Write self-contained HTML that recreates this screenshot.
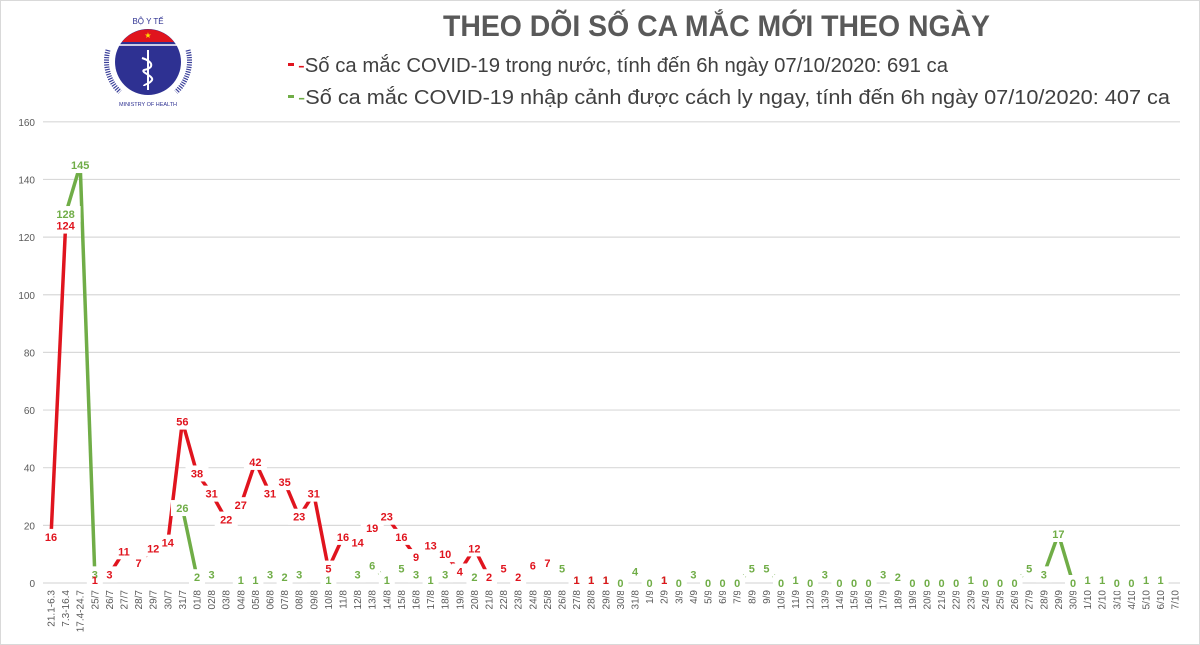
<!DOCTYPE html>
<html><head><meta charset="utf-8"><style>
html,body{margin:0;padding:0;background:#fff}
svg{display:block}
</style></head><body>
<svg width="1200" height="645" viewBox="0 0 1200 645" xmlns="http://www.w3.org/2000/svg" font-family="Liberation Sans, sans-serif">
<rect x="0.5" y="0.5" width="1199" height="644" fill="#fff" stroke="#d9d9d9"/>
<g transform="translate(148,62)">
<path d="M-40,-12 A42,42 0 0 0 -28,30" fill="none" stroke="#3a3f99" stroke-width="5" stroke-dasharray="1.2 1.2"/>
<path d="M40,-12 A42,42 0 0 1 28,30" fill="none" stroke="#3a3f99" stroke-width="5" stroke-dasharray="1.2 1.2"/>
<circle r="33" fill="#2e3192"/>
<path d="M-26,-20 A33,33 0 0 1 26,-20 Z" fill="#e0141e"/>
<path d="M-29,-17 L29,-17" stroke="#fff" stroke-width="1.5"/>
<text x="0" y="-24" font-size="8" fill="#ffdd00" text-anchor="middle">★</text>
<line x1="0" y1="-12" x2="0" y2="28" stroke="#fff" stroke-width="2"/>
<path d="M-6,-4 C6,0 6,6 -4,8 C-8,10 6,14 4,18 C2,22 -4,22 -4,24" fill="none" stroke="#fff" stroke-width="2"/>
<text x="0" y="-38" font-size="8" fill="#2e3192" text-anchor="middle">BỘ Y TẾ</text>
<text x="0" y="44" font-size="5.5" fill="#2e3192" text-anchor="middle">MINISTRY OF HEALTH</text>
</g>
<text x="443" y="36" font-size="30" font-weight="bold" fill="#595959" textLength="547" lengthAdjust="spacingAndGlyphs">THEO DÕI SỐ CA MẮC MỚI THEO NGÀY</text>
<rect x="288" y="63" width="6" height="3" fill="#e0141e"/>
<text x="298" y="72" font-size="20" fill="#404040" textLength="650" lengthAdjust="spacingAndGlyphs"><tspan fill="#e0141e">-</tspan>Số ca mắc COVID-19 trong nước, tính đến 6h ngày 07/10/2020: 691 ca</text>
<rect x="288" y="95" width="6" height="3" fill="#70ad47"/>
<text x="298" y="104" font-size="20" fill="#404040" textLength="872" lengthAdjust="spacingAndGlyphs"><tspan fill="#70ad47">-</tspan>Số ca mắc COVID-19 nhập cảnh được cách ly ngay, tính đến 6h ngày 07/10/2020: 407 ca</text>
<g id="chart"></g>
</svg>
<script>
(function(){
var NS="http://www.w3.org/2000/svg",g=document.getElementById('chart');
function el(n,a,t){var e=document.createElementNS(NS,n);for(var k in a)e.setAttribute(k,a[k]);if(t!=null)e.textContent=t;g.appendChild(e);return e;}
function X(i){return 51+14.6*i;}
function Y(v){return 583-v*2.8825;}
for(var v=0;v<=160;v+=20){el('line',{x1:43,x2:1180,y1:Y(v),y2:Y(v),stroke:'#d9d9d9','stroke-width':1.2});
el('text',{x:35,y:Y(v)+4,'font-size':10,fill:'#595959','text-anchor':'end'},String(v));}
var cats=['21.1-6.3','7.3-16.4','17.4-24.7'];
for(var d=25;d<=31;d++)cats.push(d+'/7');
for(d=1;d<=31;d++)cats.push((d<10?'0'+d:d)+'/8');
for(d=1;d<=30;d++)cats.push(d+'/9');
for(d=1;d<=7;d++)cats.push(d+'/10');
cats.forEach(function(c,i){var x=X(i)+3.5,y=590;el('text',{x:x,y:y,'font-size':10,fill:'#595959','text-anchor':'end',transform:'rotate(-90 '+x+' '+y+')'},c);});
var R={};
R[0]=16;R[1]=124;
[1,3,11,7,12,14,56].forEach(function(v,k){R[3+k]=v;});
[38,31,22,27,42,31,35,23,31,5,16,14,19,23,16,9,13,10,4,12,2,5,2,6,7].forEach(function(v,k){R[10+k]=v;});
R[36]=1;R[37]=1;R[38]=1;R[42]=1;
var G={1:128,2:145,3:3,9:26,10:2,11:3,13:1,14:1,15:3,16:2,17:3,19:1,21:3,22:6,23:1,24:5,25:3,26:1,27:3,29:2,35:5,36:1,37:1,38:1,39:0,40:4,41:0,42:1,43:0,44:3,45:0,46:0,47:0,48:5,49:5,50:0,51:1,52:0,53:3,54:0,55:0,56:0,57:3,58:2,59:0,60:0,61:0,62:0,63:1,64:0,65:0,66:0,67:5,68:3,69:17,70:0,71:1,72:1,73:0,74:0,75:1,76:1};
function lines(S,col){for(var i=0;i<78;i++){if(S[i]!=null&&S[i-1]!=null){el('line',{x1:X(i-1),y1:Y(S[i-1]),x2:X(i),y2:Y(S[i]),stroke:col,'stroke-width':3.5});}}}
lines(G,'#70ad47');
lines(R,'#e0141e');
function rects(S){for(var i in S){var v=S[i],x=X(+i),y=Y(v),w=String(v).length*7+9;
el('rect',{x:x-w/2,y:y-8,width:w,height:16,fill:'#fff'});}}
function texts(S,col){for(var i in S){var v=S[i];
el('text',{x:X(+i),y:Y(v)+4,'font-size':11,'font-weight':'bold',fill:col,'text-anchor':'middle'},String(v));}}
rects(G);rects(R);
texts(G,'#70ad47');texts(R,'#e0141e');
})();
</script>
</body></html>
